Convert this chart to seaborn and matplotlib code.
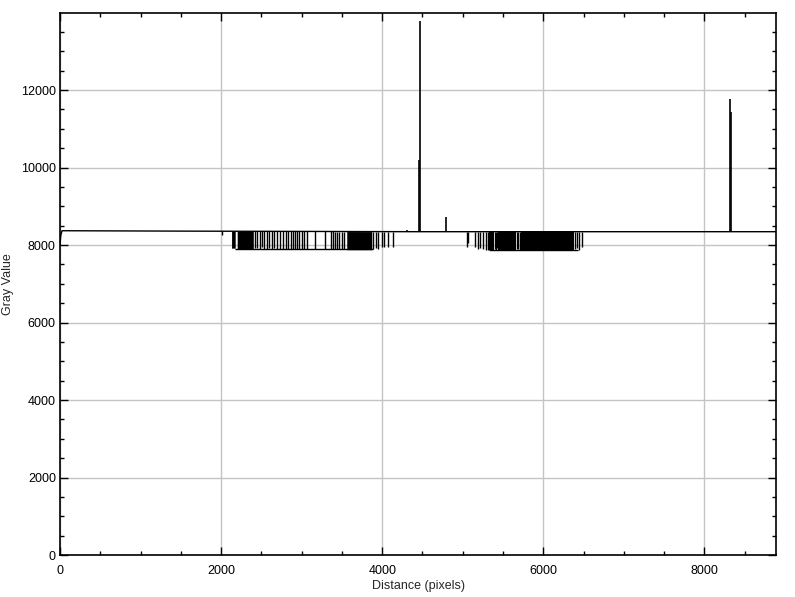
import numpy as np
import pandas as pd
import seaborn as sns
import matplotlib.pyplot as plt

# baseline of the profile (knots)
base_x = [0, 10, 25, 1500, 4400, 4480, 8889]
base_y = [8000, 8250, 8370, 8360, 8345, 8345, 8345]

# flat low level inside the two dark bands
low_start = [2170, 5330]
low_end = [3890, 6430]
low_level = [7890, 7875]

# solid dark blocks: start, end, bottom
block_start = [2130, 2200, 3560, 5330, 5440, 5720]
block_end = [2175, 2400, 3870, 5390, 5660, 6380]
block_low = [7920, 7895, 7880, 7880, 7875, 7875]

# single vertical strokes going down from the baseline
dip_x = [2007, 2421, 2450, 2483, 2504, 2533, 2566, 2595, 2628, 2657, 2698,
         2731, 2773, 2806, 2835, 2864, 2897, 2917, 2938, 2967, 3000, 3029,
         3070, 3166, 3290, 3360, 3385, 3414, 3443, 3468, 3497, 3526,
         3890, 3923, 3952, 3993, 4022, 4076, 4138,
         5049, 5069, 5152, 5193, 5214, 5255, 5289, 5317,
         5400, 5415, 5430, 5675, 5690, 5705, 6395, 6420, 6445, 6475]
dip_low = [8270, 7920, 7930, 7900, 7940, 7910, 7900, 7930, 7900, 7920, 7900,
           7890, 7900, 7890, 7890, 7890, 7890, 7890, 7890, 7890, 7890, 7890,
           7890, 7890, 7890, 7890, 7890, 7890, 7890, 7890, 7890, 7890,
           7900, 7920, 7900, 7950, 7960, 7955, 7960,
           7955, 8050, 7960, 7900, 7920, 7900, 7880, 7880,
           7900, 7880, 7920, 7890, 7900, 7880, 7900, 7920, 7880, 7960]

# vertical strokes going up from the baseline
peak_x = [4304, 4460, 4473, 4792, 8322, 8335]
peak_y = [8400, 10190, 13780, 8730, 11760, 11425]

sns.set_style("ticks")
plt.rcParams['font.family'] = ['Liberation Sans', 'DejaVu Sans']

fig = plt.figure(figsize=(7.95, 5.97), dpi=100)
ax = fig.add_axes([60 / 795, 1 - 555 / 597, 716 / 795, 542 / 597])

base = pd.DataFrame({"x": base_x, "y": base_y})
sns.lineplot(data=base, x="x", y="y", color="black", lw=1, ax=ax, zorder=3)

base_at = lambda v: np.interp(v, base_x, base_y)

for s, e, lo in zip(block_start, block_end, block_low):
    ax.fill_between([s, e], [lo, lo], [base_at(s), base_at(e)],
                    color="black", lw=0, zorder=3)
for s, e, lo in zip(low_start, low_end, low_level):
    ax.hlines(lo, s, e, color="black", lw=1, zorder=3)

ax.vlines(dip_x, dip_low, base_at(dip_x), color="black", lw=1, zorder=3)
ax.vlines(peak_x, base_at(peak_x), peak_y, color="black", lw=1.2, zorder=3)

ax.set_xlim(0, 8889)
ax.set_ylim(0, 13990)
ax.set_xticks([0, 2000, 4000, 6000, 8000])
ax.set_yticks([0, 2000, 4000, 6000, 8000, 10000, 12000])
ax.set_xticks(np.arange(0, 8889, 500), minor=True)
ax.set_yticks(np.arange(0, 13990, 500), minor=True)
ax.grid(True, which="major", color="#c4c4c4", lw=1, zorder=0)
ax.set_axisbelow(True)
ax.tick_params(which="both", direction="in", top=True, right=True,
               colors="black", labelsize=9, width=1)
ax.tick_params(which="major", length=6)
ax.tick_params(axis="x", which="major", pad=7)
ax.tick_params(axis="y", which="major", pad=3)
ax.tick_params(which="minor", length=3)
for sp in ax.spines.values():
    sp.set_visible(True)
    sp.set_color("black")
    sp.set_linewidth(1.2)

ax.set_xlabel("Distance (pixels)", fontsize=9, labelpad=2)
ax.set_ylabel("Gray Value", fontsize=9, labelpad=5)

fig.savefig("out.png", dpi=100)
